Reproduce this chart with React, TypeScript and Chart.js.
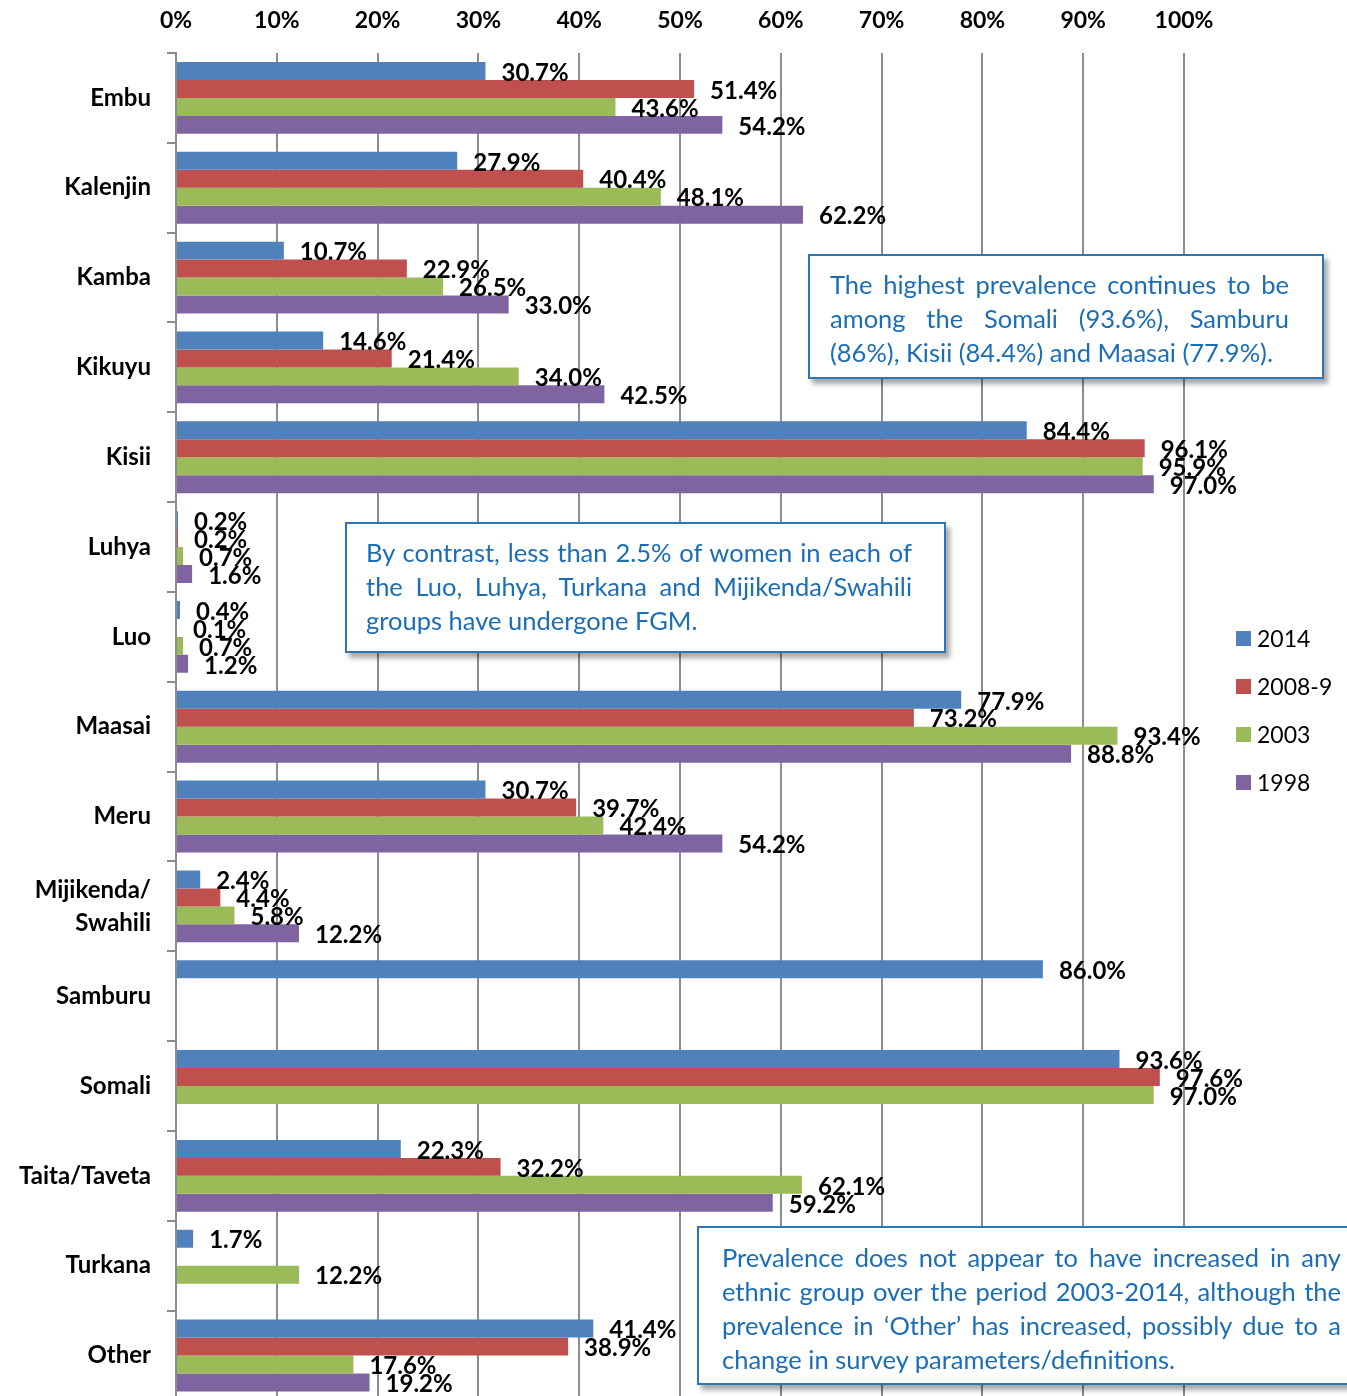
import React, { useEffect, useRef } from 'react';
import { Chart, registerables } from 'chart.js';

Chart.register(...registerables);

const categories: (string | string[])[] = [
  'Embu', 'Kalenjin', 'Kamba', 'Kikuyu', 'Kisii', 'Luhya', 'Luo', 'Maasai', 'Meru',
  ['Mijikenda/', 'Swahili'], 'Samburu', 'Somali', 'Taita/Taveta', 'Turkana', 'Other',
];

const seriesNames = ['2014', '2008-9', '2003', '1998'];
const seriesColors = ['#4F81BD', '#C0504D', '#9BBB59', '#8064A2'];

const values2014 = [30.7, 27.9, 10.7, 14.6, 84.4, 0.2, 0.4, 77.9, 30.7, 2.4, 86.0, 93.6, 22.3, 1.7, 41.4];
const values2008 = [51.4, 40.4, 22.9, 21.4, 96.1, 0.2, 0.1, 73.2, 39.7, 4.4, null, 97.6, 32.2, null, 38.9];
const values2003 = [43.6, 48.1, 26.5, 34.0, 95.9, 0.7, 0.7, 93.4, 42.4, 5.8, null, 97.0, 62.1, 12.2, 17.6];
const values1998 = [54.2, 62.2, 33.0, 42.5, 97.0, 1.6, 1.2, 88.8, 54.2, 12.2, null, null, 59.2, null, 19.2];

const box1Lines = [
  'The highest prevalence continues to be',
  'among the Somali (93.6%), Samburu',
  '(86%), Kisii (84.4%) and Maasai (77.9%).',
];
const box2Lines = [
  'By contrast, less than 2.5% of women in each of',
  'the Luo, Luhya, Turkana and Mijikenda/Swahili',
  'groups have undergone FGM.',
];
const box3Lines = [
  'Prevalence does not appear to have increased in any',
  'ethnic group over the period 2003-2014, although the',
  'prevalence in \u2018Other\u2019 has increased, possibly due to a',
  'change in survey parameters/definitions.',
];

const FONT = 'Lato, "Open Sans", sans-serif';
const TEXT_BLUE = '#1A6DB8';
const BORDER_BLUE = '#2E75B6';

const valueLabelPlugin = {
  id: 'valueLabels',
  afterDatasetsDraw(chart: any) {
    const ctx = chart.ctx;
    ctx.save();
    ctx.font = `bold 24px ${FONT}`;
    ctx.fillStyle = '#000';
    ctx.textBaseline = 'middle';
    ctx.textAlign = 'left';
    chart.data.datasets.forEach((ds: any, i: number) => {
      const meta = chart.getDatasetMeta(i);
      meta.data.forEach((bar: any, j: number) => {
        const v = ds.data[j];
        if (v === null || v === undefined) return;
        ctx.fillText(Number(v).toFixed(1) + '%', bar.x + 16, bar.y + 2);
      });
    });
    ctx.restore();
  },
};

function TextBox(props: { left: number; top: number; width: number; height: number; pad: string; textWidth: number; lines: string[] }) {
  const { left, top, width, height, pad, textWidth, lines } = props;
  return (
    <div
      style={{
        position: 'absolute',
        left,
        top,
        width,
        height,
        boxSizing: 'border-box',
        border: `2px solid ${BORDER_BLUE}`,
        background: '#fff',
        boxShadow: '4px 5px 5px rgba(0,0,0,0.35)',
        padding: pad,
        fontFamily: FONT,
        fontSize: 25.5,
        lineHeight: '34px',
        color: TEXT_BLUE,
      }}
    >
      {lines.map((l, i) => (
        <div
          key={i}
          style={{
            width: textWidth,
            textAlign: i < lines.length - 1 ? 'justify' : 'left',
            textAlignLast: i < lines.length - 1 ? 'justify' : 'left',
            whiteSpace: 'nowrap',
          } as any}
        >
          {l}
        </div>
      ))}
    </div>
  );
}

export default function App() {
  const canvasRef = useRef<HTMLCanvasElement | null>(null);

  useEffect(() => {
    document.body.style.margin = '0';
    const canvas = canvasRef.current;
    if (!canvas) return;
    const chart = new Chart(canvas, {
      type: 'bar',
      data: {
        labels: categories as any,
        datasets: [values2014, values2008, values2003, values1998].map((d, i) => ({
          label: seriesNames[i],
          data: d as any,
          backgroundColor: seriesColors[i],
          borderWidth: 0,
          categoryPercentage: 0.8,
          barPercentage: 1.0,
        })),
      },
      options: {
        indexAxis: 'y',
        responsive: false,
        animation: false,
        maintainAspectRatio: false,
        layout: { padding: { top: 0, right: 163, bottom: 0, left: 0 } },
        plugins: {
          legend: { display: false },
          tooltip: { enabled: false },
        },
        scales: {
          x: {
            position: 'top',
            min: 0,
            max: 100,
            afterFit: (scale: any) => { scale.height = 53; },
            ticks: {
              stepSize: 10,
              callback: (v: any) => v + '%',
              font: { family: FONT, size: 23, weight: 'bold' },
              color: '#000',
              padding: 19,
              maxRotation: 0,
            },
            grid: { color: '#8c8c8c', lineWidth: 2, drawTicks: false },
            border: { display: false },
          },
          y: {
            afterFit: (scale: any) => { scale.width = 176; },
            ticks: {
              font: { family: FONT, size: 24, weight: 'bold', lineHeight: 1.38 },
              color: '#000',
              padding: 16,
            },
            grid: { drawOnChartArea: false, drawTicks: true, tickLength: 9, color: '#8c8c8c', lineWidth: 2, offset: true },
            border: { display: true, color: '#8c8c8c', width: 2 },
          },
        },
      } as any,
      plugins: [valueLabelPlugin],
    });
    return () => chart.destroy();
  }, []);

  return (
    <div style={{ position: 'fixed', left: 0, top: 0, width: 1347, height: 1396, overflow: 'hidden', background: '#fff' }}>
      <canvas ref={canvasRef} width={1347} height={1433} style={{ position: 'absolute', left: 0, top: 0, width: 1347, height: 1433 }} />
      <div style={{ position: 'absolute', left: 1236, top: 614, fontFamily: FONT, fontSize: 23, color: '#000' }}>
        {seriesNames.map((n, i) => (
          <div key={n} style={{ display: 'flex', alignItems: 'center', height: 48 }}>
            <span style={{ display: 'inline-block', width: 15, height: 15, background: seriesColors[i], marginRight: 6 }} />
            <span>{n}</span>
          </div>
        ))}
      </div>
      <TextBox left={808} top={254} width={516} height={125} pad="11px 0 0 20px" textWidth={459} lines={box1Lines} />
      <TextBox left={345} top={522} width={601} height={131} pad="11px 0 0 19px" textWidth={546} lines={box2Lines} />
      <TextBox left={697} top={1226} width={700} height={159} pad="12px 0 0 23px" textWidth={619} lines={box3Lines} />
    </div>
  );
}
